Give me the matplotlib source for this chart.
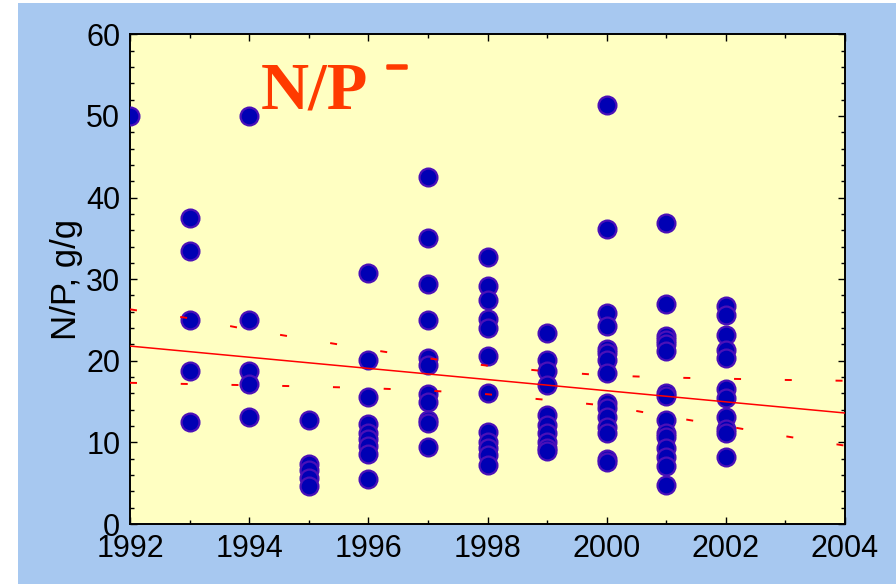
import numpy as np
import matplotlib
matplotlib.use('Agg')
import matplotlib.pyplot as plt
import matplotlib.patheffects as pe
from matplotlib.patches import Rectangle
from matplotlib.ticker import MultipleLocator

# ── N/P ratio samples by year (g/g) ──────────────────────────────────────
np_1992 = [50.0]
np_1993 = [37.45, 33.4, 25.0, 18.75, 12.5]
np_1994 = [50.0, 25.0, 18.75, 17.1, 13.1]
np_1995 = [12.8, 7.4, 6.6, 5.6, 4.6]
np_1996 = [30.7, 20.1, 15.5, 12.3, 11.2, 10.4, 9.5, 8.6, 5.5]
np_1997 = [42.55, 35.0, 29.4, 25.0, 20.4, 19.5, 15.9, 15.0, 12.8, 12.4, 9.4]
np_1998 = [32.75, 29.2, 27.5, 25.1, 24.0, 20.6, 16.0, 11.3, 10.1, 9.3, 8.5, 7.2]
np_1999 = [23.4, 20.1, 18.7, 17.0, 13.4, 12.1, 11.1, 10.1, 9.3, 8.9]
np_2000 = [51.3, 36.2, 25.8, 24.3, 21.5, 20.9, 20.1, 18.5, 14.8, 14.2,
           13.1, 11.9, 11.2, 8.0, 7.6]
np_2001 = [36.9, 27.0, 23.0, 22.5, 22.0, 21.2, 16.1, 15.7, 12.8, 11.1,
           10.6, 9.3, 8.2, 7.1, 4.8]
np_2002 = [26.7, 25.6, 23.2, 21.3, 20.3, 16.5, 15.4, 13.1, 11.6, 11.1, 8.25]

samples = {
    1992: np_1992, 1993: np_1993, 1994: np_1994, 1995: np_1995,
    1996: np_1996, 1997: np_1997, 1998: np_1998, 1999: np_1999,
    2000: np_2000, 2001: np_2001, 2002: np_2002,
}

# linear trend and its confidence band
trend_years = [1992, 2004]
trend_vals = [21.8, 13.6]

band_years = [1992, 1993, 1994, 1995, 1996, 1997, 1998,
              1999, 2000, 2001, 2002, 2003, 2004]
band_upper = [26.3, 25.2, 23.8, 22.6, 21.4, 20.3, 19.4,
              18.7, 18.2, 17.95, 17.8, 17.65, 17.55]
band_lower = [17.3, 17.15, 17.0, 16.85, 16.65, 16.35, 15.9,
              15.2, 14.5, 13.2, 12.0, 10.75, 9.6]

x_ticks = [1992, 1994, 1996, 1998, 2000, 2002, 2004]
y_ticks = [0, 10, 20, 30, 40, 50, 60]

BG_BLUE = '#A7C8F0'
PANEL = '#FFFFC2'
DOT_FACE = '#0000B4'
DOT_EDGE = '#4A10B8'
TREND_RED = '#FF0000'
TITLE_RED = '#FF3A00'

fig = plt.figure(figsize=(8.96, 5.84), dpi=100, facecolor='white')
fig.patches.append(Rectangle((18 / 896, 0), 1, (584 - 3) / 584,
                             transform=fig.transFigure,
                             facecolor=BG_BLUE, edgecolor='none', zorder=-10))

ax = fig.add_axes([130 / 896, 60 / 584, 715 / 896, 489.7 / 584])
ax.set_facecolor(PANEL)

xs = np.concatenate([[yr] * len(v) for yr, v in samples.items()])
ys = np.concatenate([v for v in samples.values()])
ax.scatter(xs, ys, s=165, facecolor=DOT_FACE, edgecolor=DOT_EDGE,
           linewidths=1.6, zorder=3)

ax.plot(trend_years, trend_vals, color=TREND_RED, lw=1.1, zorder=4)
for band in (band_upper, band_lower):
    ax.plot(band_years, band, color=TREND_RED, lw=1.4,
            dashes=(3.6, 22.5), zorder=4)

ax.set_xlim(1992, 2004)
ax.set_ylim(0, 60)
ax.set_xticks(x_ticks)
ax.set_yticks(y_ticks)
ax.xaxis.set_minor_locator(MultipleLocator(1))
ax.yaxis.set_minor_locator(MultipleLocator(2))
ax.tick_params(which='both', direction='in', top=True, right=True,
               colors='black', width=1.0)
ax.tick_params(which='major', length=5, pad=7)
ax.tick_params(which='minor', length=3)
for lbl in ax.get_xticklabels() + ax.get_yticklabels():
    lbl.set_fontfamily('Liberation Sans')
    lbl.set_fontsize(22)
for sp in ax.spines.values():
    sp.set_linewidth(1.4)
    sp.set_color('black')

ax.set_ylabel('N/P, g/g', fontsize=25, family='Liberation Sans', labelpad=2)

ax.text(1994.2, 50.85, 'N/P', color=TITLE_RED, fontsize=48,
        fontweight='bold', family='Liberation Serif', ha='left', va='baseline')
ax.text(1996.47, 55.0, '–', color=TITLE_RED, fontsize=26,
        fontweight='bold', family='Liberation Serif', ha='center', va='baseline',
        path_effects=[pe.withStroke(linewidth=1.8, foreground=TITLE_RED)])

fig.savefig('out.png', dpi=100, facecolor=fig.get_facecolor())
